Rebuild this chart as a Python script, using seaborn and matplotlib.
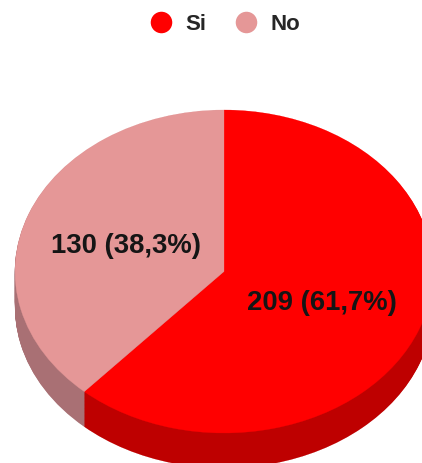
import matplotlib
matplotlib.use("Agg")
import matplotlib.pyplot as plt
from matplotlib.lines import Line2D
import numpy as np
import seaborn as sns

categories = ["Si", "No"]
counts = [209, 130]
percent_labels = ["209 (61,7%)", "130 (38,3%)"]
top_colors = ["#FF0000", "#E59797"]
side_colors = ["#BE0000", "#A97074"]

sns.set_theme(style="white")
plt.rcParams["font.family"] = ["Liberation Sans", "DejaVu Sans"]

W, H = 422, 463
fig = plt.figure(figsize=(W / 100, H / 100), dpi=100)
ax = fig.add_axes([0, 0, 1, 1])

cx, cy, rx, ry = 224.0, 271.5, 209.0, 161.5
depth = 35 / ry

# extruded side of the 3D pie
for d in np.linspace(depth, 0.004, 60):
    wedges, _ = ax.pie(counts, colors=side_colors, startangle=90, counterclock=False,
                       center=(0, -d), radius=1, frame=True)
    for w in wedges:
        w.set_edgecolor(w.get_facecolor())
        w.set_linewidth(0.2)

# top face
label_iter = iter(percent_labels)
wedges, _, autotexts = ax.pie(counts, colors=top_colors, startangle=90, counterclock=False,
                              radius=1, frame=True, pctdistance=0.5,
                              autopct=lambda p: next(label_iter),
                              textprops=dict(fontsize=19.8, fontweight="bold", color="#151515"))
for w in wedges:
    w.set_edgecolor(w.get_facecolor())
    w.set_linewidth(0.2)
for t in autotexts:
    t.set_ha("center")
    t.set_va("center_baseline")

ax.set_aspect("auto")
ax.set_xlim((0 - cx) / rx, (W - cx) / rx)
ax.set_ylim((cy - H) / ry, cy / ry)
ax.axis("off")

handles = [Line2D([], [], linestyle="none", marker="o", markersize=15.5,
                  markerfacecolor=c, markeredgecolor="none") for c in top_colors]
fig.legend(handles, categories, loc="center", bbox_to_anchor=(219.5 / W, 1 - 24.5 / H),
           ncol=2, frameon=False, columnspacing=0.75, handletextpad=0.1,
           prop=dict(family="Liberation Sans", weight="bold", size=16))

fig.savefig("out.png", dpi=100)
